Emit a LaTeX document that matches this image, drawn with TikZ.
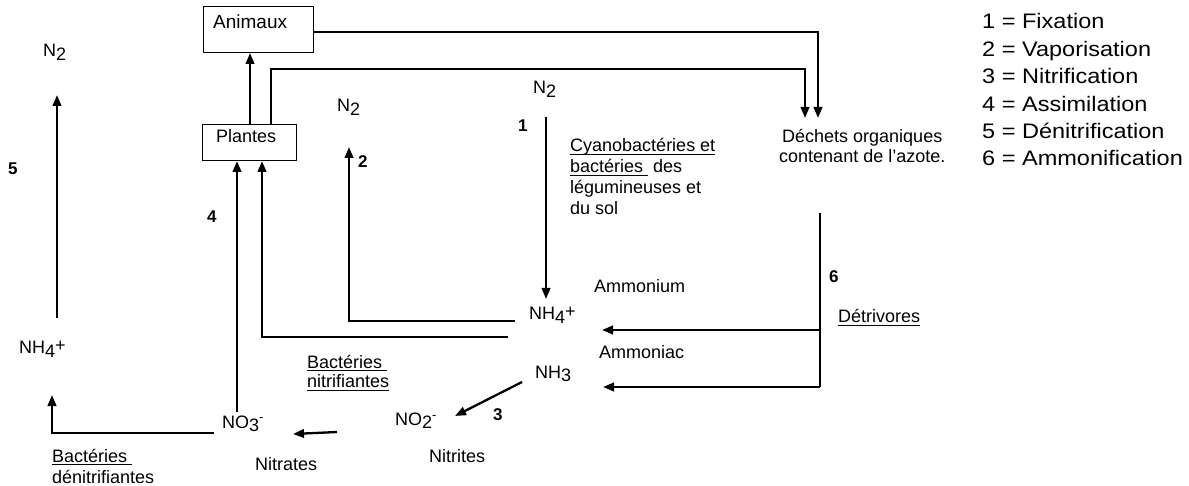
\documentclass[tikz,border=0pt]{standalone}
\usepackage{fontspec}
\setmainfont{Liberation Sans}
\newfontfamily\legendfont[FakeStretch=1.12]{Liberation Sans}
\usetikzlibrary{arrows.meta}
\newcommand\lw[1]{\raisebox{-3.5pt}{#1}}
\newcommand\hiplus{\raisebox{2.5pt}{+}}
\newcommand\himinus{\raisebox{6pt}{\fontsize{13}{13}\selectfont -}}
\newcommand\myul[1]{\setbox0\hbox{#1}\rlap{\rule[-2.5pt]{\wd0}{0.9pt}}\box0}
\begin{document}
\begin{tikzpicture}[x=1pt,y=-1pt,
  txt/.style={inner sep=0pt, anchor=base west, font=\fontsize{18}{21}\selectfont},
  num/.style={inner sep=0pt, anchor=base west, font=\fontsize{17}{20}\selectfont\bfseries},
  leg/.style={inner sep=0pt, anchor=base west, font=\legendfont\fontsize{21}{24}\selectfont},
  box/.style={draw, line width=1pt, inner sep=0pt, anchor=north west},
  ln/.style={line width=2.3pt},
  arr/.style={line width=2.3pt, -{Triangle[length=11pt,width=8.5pt]}}]
\useasboundingbox (0,0) rectangle (1189,486);

% boxes
\node[box, minimum width=110pt, minimum height=46pt] (animaux) at (203,6) {};
\node[txt, font=\fontsize{19}{22}\selectfont] (animauxt) at (213,29) {Animaux};
\node[box, minimum width=94pt, minimum height=36pt] (plantes) at (202,124) {};
\node[txt] (plantest) at (216,143) {Plantes};

% texts
\node[txt] (n2l) at (43,57) {N\lw{2}};
\node[num] (k5) at (8,175) {5};
\node[txt] (nh4l) at (19,354) {NH\lw{4}\hiplus};
\node[txt] (no3) at (222,428) {NO\lw{3}\himinus};
\node[txt] (nitrates) at (255,470) {Nitrates};
\node[txt] (bd1) at (52,462) {\myul{Bactéries\ }};
\node[txt] (bd2) at (52,483) {dénitrifiantes};
\node[txt] (bn1) at (307,368) {\myul{Bactéries\ }};
\node[txt] (bn2) at (307,388) {\myul{nitrifiantes}};
\node[txt] (no2) at (395,425) {NO\lw{2}\himinus};
\node[txt] (nitrites) at (429,462) {Nitrites};
\node[num] (k3) at (493,420) {3};
\node[txt] (nh3) at (535,378) {NH\lw{3}};
\node[txt] (nh4) at (529,320) {NH\lw{4}\hiplus};
\node[txt] (ammonium) at (594,293) {Ammonium};
\node[txt] (ammoniac) at (599,359) {Ammoniac};
\node[num] (k6) at (829,283) {6};
\node[txt] (detr) at (838,323) {\myul{Détrivores}};
\node[txt] (n2m) at (337,112) {N\lw{2}};
\node[num] (k2) at (358,168) {2};
\node[num] (k4) at (207,223) {4};
\node[txt] (n2t) at (533,94) {N\lw{2}};
\node[num] (k1) at (518,132) {1};
\node[txt] (cy1) at (570,152) {\myul{Cyanobactéries et}};
\node[txt] (cy2) at (570,173) {\myul{bactéries\ }\ des};
\node[txt] (cy3) at (570,194) {légumineuses et};
\node[txt] (cy4) at (570,215) {du sol};
\node[txt] (dech1) at (782,143) {Déchets organiques};
\node[txt] (dech2) at (779,163) {contenant de l’azote.};

% legend
\node[leg] (l1) at (982,29) {1 = Fixation};
\node[leg] (l2) at (982,56.4) {2 = Vaporisation};
\node[leg] (l3) at (982,83.8) {3 = Nitrification};
\node[leg] (l4) at (982,111.2) {4 = Assimilation};
\node[leg] (l5) at (982,138.6) {5 = Dénitrification};
\node[leg] (l6) at (982,166) {6 = Ammonification};

% coordinates
\coordinate (dA) at (805,118);
\coordinate (dB) at (818,118);
\coordinate (c5b) at (57,318);
\coordinate (c5t) at (57,95);
\coordinate (c1t) at (546,117);
\coordinate (c1b) at (546,299);
\coordinate (c6t) at (820,213);
\coordinate (c6b) at (820,387);
\coordinate (c6m) at (820,330);
\coordinate (t4a) at (602,330);
\coordinate (t3a) at (603,387);
\coordinate (a3s) at (522,382);
\coordinate (a3e) at (455,416);
\coordinate (an2s) at (337,432);
\coordinate (an2e) at (293,434);
\coordinate (v2s) at (515,321);
\coordinate (v2c) at (349,321);
\coordinate (v2t) at (349,147);
\coordinate (p2s) at (508,337);
\coordinate (p2c) at (262,337);
\coordinate (p4s) at (237,412);
\coordinate (dns) at (214,433);
\coordinate (dnc) at (52,433);
\coordinate (dnt) at (52,395);

% connectors
\draw[arr] (plantes.north -| 250,0) -- (animaux.south -| 250,0);
\draw[arr] (plantes.north -| 271,0) -- (271,69) -- (805,69) -- (dA);
\draw[arr] (animaux.east |- 0,32) -- (818,32) -- (dB);
\draw[arr] (c5b) -- (c5t);
\draw[arr] (c1t) -- (c1b);
\draw[ln] (c6t) -- (c6b);
\draw[arr] (c6m) -- (t4a);
\draw[arr] (c6b) -- (t3a);
\draw[arr] (a3s) -- (a3e);
\draw[arr] (an2s) -- (an2e);
\draw[arr] (v2s) -- (v2c) -- (v2t);
\draw[arr] (p2s) -- (p2c) -- (plantes.south -| p2c);
\draw[arr] (p4s) -- (plantes.south -| p4s);
\draw[arr] (dns) -- (dnc) -- (dnt);
\end{tikzpicture}
\end{document}
